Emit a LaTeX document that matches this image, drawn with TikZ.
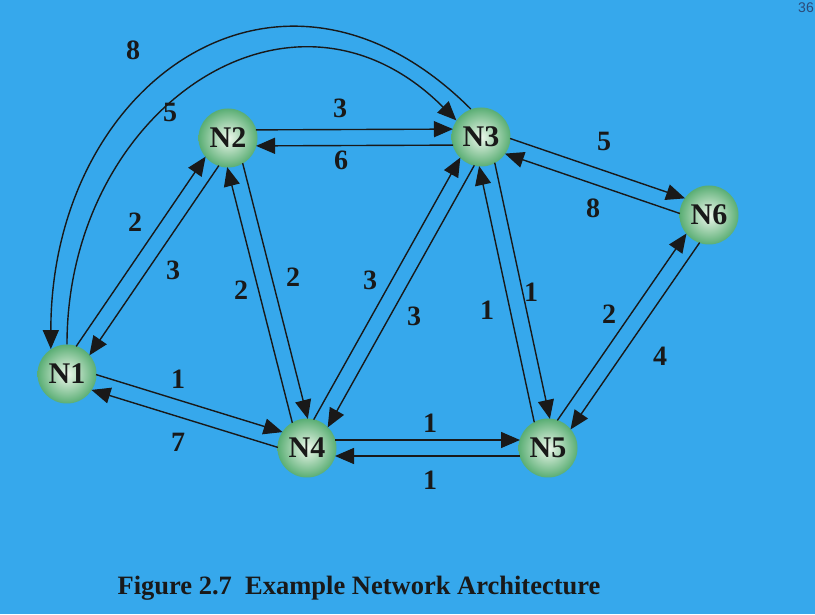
\documentclass[tikz,border=0pt]{standalone}
\usepackage{fontspec}
\setmainfont{Liberation Serif}
\setsansfont{Liberation Sans}
\usepackage{tikz}
\usetikzlibrary{arrows.meta,calc,positioning}
\definecolor{netbg}{HTML}{36A8EC}
\definecolor{nodehi}{HTML}{EEF8EC}
\definecolor{nodelo}{HTML}{5AAE74}
\definecolor{pagenum}{HTML}{2C4A78}

\begin{document}
\begin{tikzpicture}[x=1pt, y=1pt,
    router/.style={circle, minimum size=59pt, inner sep=0pt, shade, inner color=nodehi,
      outer color=nodelo, font=\fontsize{30}{30}\selectfont\bfseries, text=black!90},
    arr/.style={-{Triangle[length=19pt,width=16pt]}, line width=1.4pt, draw=black!90,
      shorten <=28pt, shorten >=28pt},
    curve/.style={-{Triangle[length=19pt,width=16pt]}, line width=1.4pt, draw=black!90},
    cost/.style={font=\fontsize{28}{28}\selectfont\bfseries, text=black!90}]
\fill[netbg] (0,0) rectangle (815,614);
\useasboundingbox (0,0) rectangle (815,614);
\node[anchor=east, inner sep=0pt, font=\sffamily\fontsize{14}{14}\selectfont, text=pagenum] (pgno) at (814,606) {36};
% routers
\node[router] (n1) at (67,240) {N1};
\node[router] (n2) at (228,476) {N2};
\node[router] (n3) at (481,477) {N3};
\node[router] (n4) at (307,166) {N4};
\node[router] (n5) at (548,166) {N5};
\node[router] (n6) at (709,399) {N6};
% one-way links, each shifted to its own side
\foreach \a/\b/\w/\lx/\ly in {n1/n2/2/135/392, n2/n1/3/173/344, n2/n3/3/340/506, n3/n2/6/341/454,
    n3/n6/5/604/473, n6/n3/8/593/406, n4/n2/2/241/324, n2/n4/2/293/337,
    n4/n3/3/370/334, n3/n4/3/414/298, n5/n3/1/487/304, n3/n5/1/531/322,
    n5/n6/2/609/300, n6/n5/4/660/258, n1/n4/1/178/235, n4/n1/7/178/172,
    n4/n5/1/430/191, n5/n4/1/430/134} {
  \draw[arr] ($(\a)!8pt!90:(\b)$) -- ($(\b)!8pt!-90:(\a)$);
  \node[cost] (w\a\b) at (\lx,\ly) {\w};
}
% long links over the top
\draw[curve] (n3.110) to[out=135, in=90, looseness=1.42] (n1.123);
\draw[curve] (n1.90) to[out=90, in=135, looseness=1.33] (n3.146);
\node[cost] (wn3n1) at (133,564) {8};
\node[cost] (wn1n3) at (170,502) {5};
\node[font=\fontsize{26.5}{26.5}\selectfont\bfseries, text=black!90] (caption) at (359,26)
  {Figure 2.7\ \ Example Network Architecture};
\end{tikzpicture}
\end{document}
